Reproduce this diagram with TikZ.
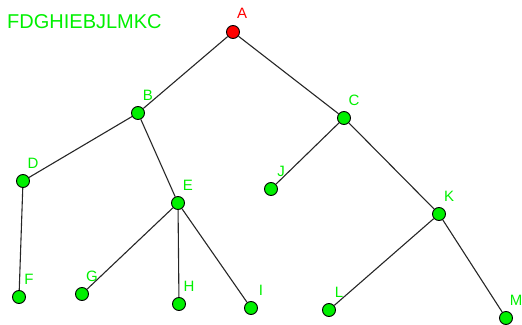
\documentclass[tikz,border=0pt]{standalone}
\usepackage{fontspec}
\setmainfont{Liberation Sans}
\definecolor{leafgreen}{RGB}{0,240,0}
\definecolor{rootred}{RGB}{255,0,0}
\begin{document}
\begin{tikzpicture}[x=1pt,y=-1pt,
  vert/.style={circle,draw=black,line width=0.9pt,fill=leafgreen,minimum size=13pt,inner sep=0pt},
  root/.style={vert,fill=rootred},
  lbl/.style={font=\fontsize{15}{15}\selectfont,inner sep=0pt},
  tag/.style={label={[lbl,text=leafgreen,xshift=10pt,yshift=18pt]center:#1}},
  roottag/.style={label={[lbl,text=rootred,xshift=9pt,yshift=19pt]center:#1}},
  edge/.style={draw=black!85,line width=1.1pt}]
\useasboundingbox (0,0) rectangle (522,324);
\node[anchor=base west,inner sep=0pt,text=leafgreen,font=\fontsize{20}{20}\selectfont] (order) at (7,28) {FDGHIEBJLMKC};
\node[root,roottag=A] (A) at (233,32) {};
\node[vert,tag=B] (B) at (138,113) {};
\node[vert,tag=C] (C) at (344,118) {};
\node[vert,tag=D] (D) at (23,181) {};
\node[vert,tag=E] (E) at (178,203) {};
\node[vert,tag=F] (F) at (19,297) {};
\node[vert,tag=G] (G) at (82,294) {};
\node[vert,tag=H] (H) at (179,304) {};
\node[vert,tag=I] (I) at (251,308) {};
\node[vert,tag=J] (J) at (271,189) {};
\node[vert,tag=K] (K) at (439,214) {};
\node[vert,tag=L] (L) at (329,310) {};
\node[vert,tag=M] (M) at (506,318) {};
\path[edge] (A) -- (B) (A) -- (C)
  (B) -- (D) (B) -- (E)
  (D) -- (F)
  (E) -- (G) (E) -- (H) (E) -- (I)
  (C) -- (J) (C) -- (K)
  (K) -- (L) (K) -- (M);
\end{tikzpicture}
\end{document}
